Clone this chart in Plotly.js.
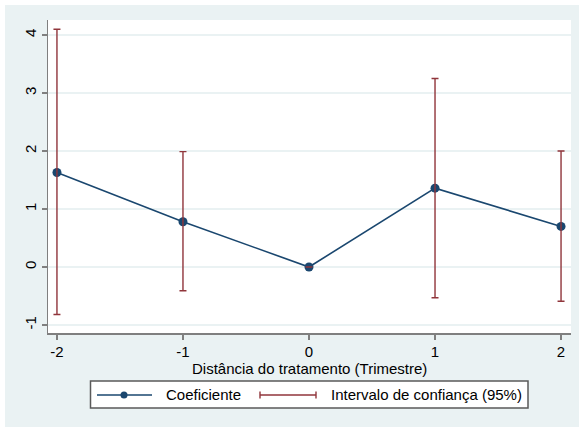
<!DOCTYPE html>
<html>
<head>
<meta charset="utf-8">
<script src="https://cdn.plot.ly/plotly-3.0.1.min.js"></script>
<style>
  html, body { margin: 0; padding: 0; background: #ffffff; }
  #chart { position: absolute; left: 5px; top: 5px; width: 574px; height: 422px; }
</style>
</head>
<body>
<div id="chart"></div>
<script>
// Event-study estimates by quarter relative to treatment
const periods = [-2, -1, 0, 1, 2];
const coef    = [1.63, 0.78, 0.00, 1.36, 0.70];
const ciLow   = [-0.82, -0.41, 0.00, -0.53, -0.59];
const ciHigh  = [4.10, 1.99, 0.00, 3.25, 2.00];
const yTicks  = [-1, 0, 1, 2, 3, 4];
const xTicks  = [-2, -1, 0, 1, 2];
const xTitle  = 'Distância do tratamento (Trimestre)';
const legendLabels = ['Coeficiente', 'Intervalo de confiança (95%)'];

const NAVY = '#1a476f';
const MAROON = '#90353b';
const FONT = 'Liberation Sans, Arial, sans-serif';
const FS = 15;

// plot-area geometry (px, inside the chart div)
const W = 574, H = 422;
const M = { l: 43, r: 8, t: 15, b: 94 };
const PW = W - M.l - M.r, PH = H - M.t - M.b;
const px = v => (v - M.l) / PW;        // div x -> paper x
const py = v => (H - M.b - v) / PH;    // div y -> paper y

const coefTrace = {
  x: periods, y: coef, type: 'scatter', mode: 'lines+markers',
  line: { color: NAVY, width: 1.6 },
  marker: { color: NAVY, size: 9 },
  showlegend: false, hoverinfo: 'x+y'
};

const ciTrace = {
  x: periods, y: coef, type: 'scatter', mode: 'markers',
  marker: { size: 0.1, opacity: 0 },
  error_y: {
    type: 'data', symmetric: false,
    array: ciHigh.map((h, i) => h - coef[i]),
    arrayminus: coef.map((c, i) => c - ciLow[i]),
    color: MAROON, thickness: 1.4, width: 3.5
  },
  showlegend: false, hoverinfo: 'skip'
};

// legend drawn as a boxed key below the x-axis title
const legY = 390;
const capH = 3.5;
const shapes = [
  { type: 'rect', xref: 'paper', yref: 'paper', x0: px(85.5), x1: px(523), y0: py(376), y1: py(403),
    line: { color: '#5a5a5a', width: 1.5 }, fillcolor: '#ffffff' },
  { type: 'line', xref: 'paper', yref: 'paper', x0: px(92), x1: px(147), y0: py(legY), y1: py(legY),
    line: { color: NAVY, width: 1.6 } },
  { type: 'circle', xref: 'paper', yref: 'paper', x0: px(119 - 3.5), x1: px(119 + 3.5), y0: py(legY - 3.5), y1: py(legY + 3.5),
    line: { color: NAVY, width: 0 }, fillcolor: NAVY },
  { type: 'line', xref: 'paper', yref: 'paper', x0: px(255), x1: px(311), y0: py(legY), y1: py(legY),
    line: { color: MAROON, width: 1.4 } },
  { type: 'line', xref: 'paper', yref: 'paper', x0: px(255), x1: px(255), y0: py(legY - capH), y1: py(legY + capH),
    line: { color: MAROON, width: 1.4 } },
  { type: 'line', xref: 'paper', yref: 'paper', x0: px(311), x1: px(311), y0: py(legY - capH), y1: py(legY + capH),
    line: { color: MAROON, width: 1.4 } }
];

const annotations = [
  { text: xTitle, xref: 'paper', yref: 'paper', x: 0.5, y: py(363), xanchor: 'center', yanchor: 'middle',
    showarrow: false, font: { family: FONT, size: FS, color: '#000000' } },
  { text: legendLabels[0], xref: 'paper', yref: 'paper', x: px(159), y: py(legY), xanchor: 'left', yanchor: 'middle',
    showarrow: false, font: { family: FONT, size: FS, color: '#000000' } },
  { text: legendLabels[1], xref: 'paper', yref: 'paper', x: px(324), y: py(legY), xanchor: 'left', yanchor: 'middle',
    showarrow: false, font: { family: FONT, size: FS, color: '#000000' } }
];

const layout = {
  width: W, height: H,
  margin: M,
  paper_bgcolor: '#eaf2f3',
  plot_bgcolor: '#ffffff',
  font: { family: FONT, size: FS, color: '#000000' },
  showlegend: false,
  xaxis: {
    range: [-2.071, 2.079],
    tickvals: xTicks, ticktext: xTicks.map(String),
    showgrid: false, zeroline: false,
    showline: true, linecolor: '#7f7f7f', linewidth: 1.5,
    ticks: 'outside', ticklen: 5, tickcolor: '#7f7f7f', tickwidth: 1.2,
    ticklabelstandoff: -1,
    tickfont: { family: FONT, size: FS }
  },
  yaxis: {
    range: [-1.138, 4.259],
    tickvals: yTicks, ticktext: yTicks.map(String),
    tickangle: -90,
    showgrid: true, gridcolor: '#eaf2f3', gridwidth: 1.2,
    zeroline: false,
    showline: true, linecolor: '#7f7f7f', linewidth: 1.5,
    ticks: 'outside', ticklen: 5, tickcolor: '#7f7f7f', tickwidth: 1.2,
    tickfont: { family: FONT, size: FS }
  },
  shapes: shapes,
  annotations: annotations
};

Plotly.newPlot('chart', [coefTrace, ciTrace], layout, { displayModeBar: false, staticPlot: true });
</script>
</body>
</html>
